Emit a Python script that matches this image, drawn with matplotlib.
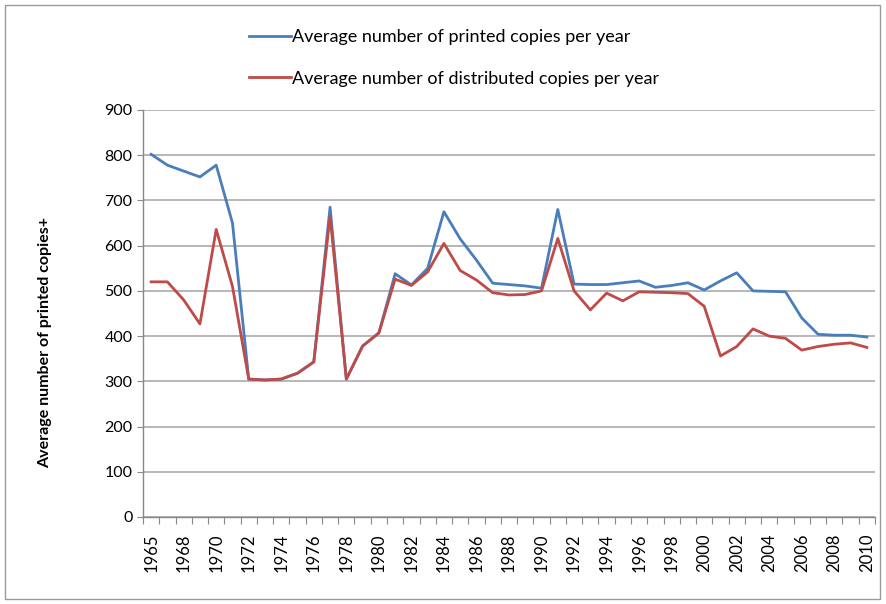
import matplotlib
matplotlib.use("Agg")
import matplotlib.pyplot as plt
from matplotlib.patches import Rectangle

plt.rcParams['font.family'] = ['Lato', 'DejaVu Sans']

years = ["1965", "1966", "1968", "1969", "1970", "1971", "1972", "1973", "1974", "1975",
         "1976", "1977", "1978", "1979", "1980", "1981", "1982", "1983", "1984", "1985",
         "1986", "1987", "1988", "1989", "1990", "1991", "1992", "1993", "1994", "1995",
         "1996", "1997", "1998", "1999", "2000", "2001", "2002", "2003", "2004", "2005",
         "2006", "2007", "2008", "2009", "2010"]

printed = [802, 778, 765, 752, 778, 650, 305, 303, 305, 318,
           343, 685, 305, 378, 407, 538, 513, 550, 675, 615,
           568, 517, 514, 511, 506, 680, 515, 514, 514, 518,
           522, 508, 512, 518, 502, 522, 540, 500, 499, 498,
           440, 404, 402, 402, 398]

distributed = [520, 520, 480, 427, 636, 510, 305, 303, 305, 318,
               343, 665, 305, 378, 407, 526, 512, 542, 605, 545,
               524, 496, 491, 492, 500, 616, 500, 458, 495, 478,
               498, 497, 496, 494, 466, 356, 377, 416, 400, 395,
               369, 377, 382, 385, 375]

tick_labels = ["1965", "1968", "1970", "1972", "1974", "1976", "1978", "1980", "1982",
               "1984", "1986", "1988", "1990", "1992", "1994", "1996", "1998", "2000",
               "2002", "2004", "2006", "2008", "2010"]

legend_labels = ["Average number of printed copies per year",
                 "Average number of distributed copies per year"]

W, H = 886, 604
fig = plt.figure(figsize=(W / 100, H / 100), dpi=100)
ax = fig.add_axes([143 / W, 1 - 517 / H, (875 - 143) / W, (517 - 110) / H])

x = list(range(len(years)))
blue = '#4a7ebb'
red = '#be4b48'
l1, = ax.plot(x, printed, color=blue, lw=2.0, solid_joinstyle='round', zorder=3)
l2, = ax.plot(x, distributed, color=red, lw=2.0, solid_joinstyle='round', zorder=4)

ax.set_xlim(-0.5, len(years) - 0.5)
ax.set_ylim(0, 900)
ax.set_yticks(range(0, 901, 100))
ax.tick_params(axis='y', labelsize=11.5, colors='#888888', labelcolor='black', length=4, width=0.8)
ax.grid(axis='y', color='#aaaaaa', lw=1.2)
ax.set_axisbelow(True)

ax.set_xticks(x[::2])
ax.set_xticklabels(tick_labels, rotation=90, fontsize=12)
ax.set_xticks([i - 0.5 for i in range(len(years) + 1)], minor=True)
ax.tick_params(axis='x', which='major', length=0, pad=12)
ax.tick_params(axis='x', which='minor', length=5, width=0.8, colors='#888888')

for s in ['top', 'right']:
    ax.spines[s].set_visible(False)
for s in ['left', 'bottom']:
    ax.spines[s].set_color('#888888')
    ax.spines[s].set_linewidth(1.0)

fig.text(45 / W, 1 - 343 / H, "Average number of printed copies+", rotation=90,
         ha='center', va='center', fontsize=11.5, fontweight='bold')

fig.legend([l1, l2], legend_labels, loc='upper left', bbox_to_anchor=(233 / W, 1 - 13 / H),
           frameon=False, fontsize=13, handlelength=2.3, handletextpad=0.05,
           labelspacing=1.4)

fig.patches.append(Rectangle((5 / W, 5 / H), (W - 11) / W, (H - 10) / H,
                             transform=fig.transFigure, fill=False,
                             edgecolor='#9a9a9a', lw=1.0))

fig.savefig("out.png", dpi=100)
